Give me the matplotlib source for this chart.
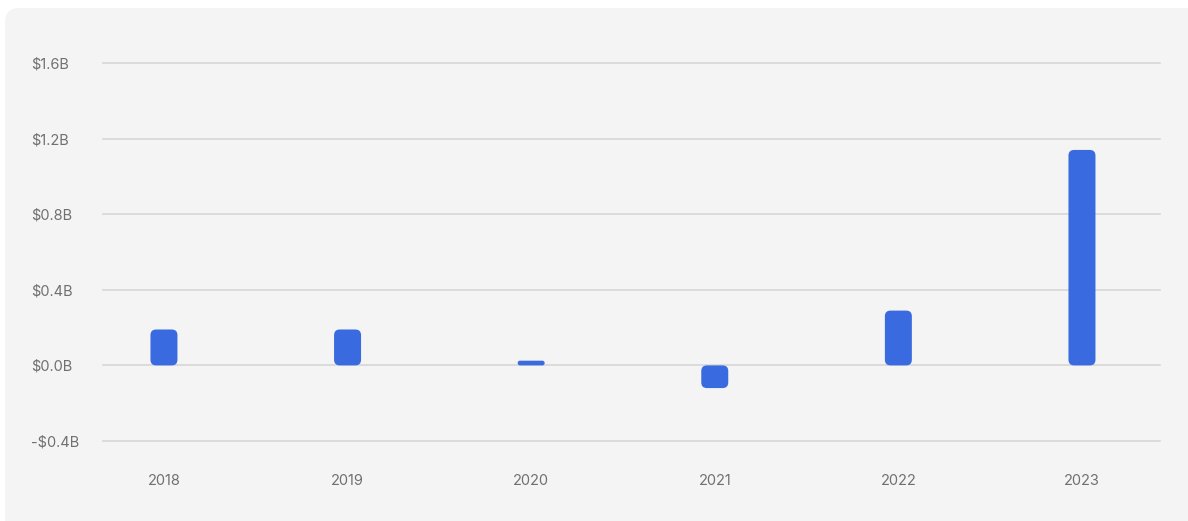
import matplotlib.pyplot as plt
from matplotlib.patches import FancyBboxPatch

years = ['2018', '2019', '2020', '2021', '2022', '2023']
values = [0.19, 0.19, 0.025, -0.12, 0.29, 1.14]  # $B
yticks = [-0.4, 0.0, 0.4, 0.8, 1.2, 1.6]
ytick_labels = ['-$0.4B', '$0.0B', '$0.4B', '$0.8B', '$1.2B', '$1.6B']

plt.rcParams['font.family'] = ['Inter', 'DejaVu Sans']

W, H = 1188, 521
fig = plt.figure(figsize=(W / 100, H / 100), dpi=100)
fig.patch.set_facecolor('white')

# card background
card = FancyBboxPatch((5 / W, -0.05), 1.1, (521 - 8) / H + 0.05,
                      boxstyle='round,pad=0,rounding_size=0.012',
                      transform=fig.transFigure, facecolor='#f4f4f4',
                      edgecolor='none', mutation_aspect=W / H, zorder=-10)
fig.patches.append(card)

ax = fig.add_axes([103 / W, (H - 441) / H, (1160 - 103) / W, (441 - 63) / H])
ax.set_zorder(1)
ax.set_facecolor('none')
ax.set_xlim(-0.332, 5.425)
ax.set_ylim(-0.4, 1.6)

ax.set_yticks(yticks)
ax.set_yticklabels(ytick_labels)
ax.yaxis.grid(True, color='#d6d6d6', linewidth=1.2)
for gl in ax.get_ygridlines():
    gl.set_clip_on(False)
ax.set_axisbelow(True)
for s in ax.spines.values():
    s.set_visible(False)
ax.tick_params(axis='y', length=0, pad=52, labelsize=10.5, labelcolor='#707070')
for lbl in ax.get_yticklabels():
    lbl.set_horizontalalignment('left')
ax.set_xticks(range(len(years)))
ax.set_xticklabels(years)
ax.tick_params(axis='x', length=0, pad=24, labelsize=10.5, labelcolor='#707070')

bars = ax.bar(range(len(years)), values, width=0.147, color='#3a6ae0')
for b in bars:
    x, y, w, h = b.get_x(), b.get_y(), b.get_width(), b.get_height()
    if h < 0:
        y, h = y + h, -h
    r = min(0.03, h / 2)
    b.remove()
    p = FancyBboxPatch((x, y), w, h, boxstyle=f'round,pad=0,rounding_size={r / 0.97}',
                       mutation_aspect=0.97, facecolor='#3a6ae0', edgecolor='none',
                       zorder=3)
    ax.add_patch(p)

fig.savefig('out.png', dpi=100)
